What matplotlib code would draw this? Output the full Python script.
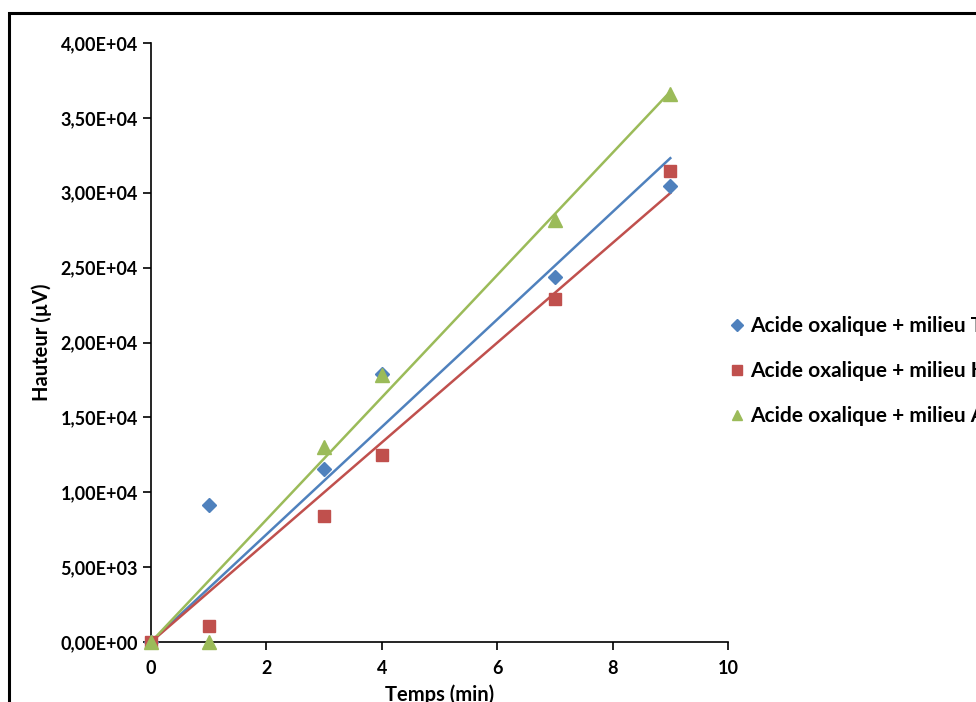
import matplotlib
matplotlib.use("Agg")
import matplotlib.pyplot as plt
from matplotlib.patches import Rectangle
from matplotlib.ticker import FuncFormatter, MultipleLocator
from matplotlib.lines import Line2D
import numpy as np

plt.rcParams['font.family'] = ['Lato', 'DejaVu Sans']
plt.rcParams['font.weight'] = 'bold'

temps = [0, 1, 3, 4, 7, 9]
milieu_t = [0, 9150, 11550, 17900, 24370, 30450]
milieu_h = [0, 1070, 8410, 12490, 22900, 31450]
milieu_a = [0, 0, 13020, 17830, 28180, 36600]
labels = ["Acide oxalique + milieu TYG",
          "Acide oxalique + milieu HCG",
          "Acide oxalique + milieu AAM"]
colors = ['#4F81BD', '#C0504D', '#9BBB59']
markers = ['D', 's', '^']
msizes = [7.5, 8.5, 9.5]

fig = plt.figure(figsize=(9.76, 7.02), dpi=100)
ax = fig.add_axes([151 / 976, 1 - 642 / 702, 577 / 976, 599 / 702])

x = np.array(temps, dtype=float)
handles = []
for ys, c, m, ms, lab in zip([milieu_t, milieu_h, milieu_a], colors, markers, msizes, labels):
    y = np.array(ys, dtype=float)
    slope = (x * y).sum() / (x * x).sum()  # linear trend through origin
    xx = np.array([0, x.max()])
    ax.plot(xx, slope * xx, color=c, lw=1.8, zorder=2)
    ax.plot(x, y, linestyle='none', marker=m, ms=ms, color=c, mec=c, zorder=3, clip_on=False)
    handles.append(Line2D([], [], linestyle='none', marker=m, ms=ms * 0.8, color=c, label=lab))

ax.set_xlim(0, 10)
ax.set_ylim(0, 40000)
ax.xaxis.set_major_locator(MultipleLocator(2))
ax.yaxis.set_major_locator(MultipleLocator(5000))
ax.yaxis.set_major_formatter(FuncFormatter(lambda v, p: "{:.2E}".format(v).replace('.', ',')))
for s in ['top', 'right']:
    ax.spines[s].set_visible(False)
for s in ['left', 'bottom']:
    ax.spines[s].set_linewidth(1.2)
ax.tick_params(direction='out', length=6, width=1.2, labelsize=13)
ax.tick_params(axis='x', pad=7)
ax.set_ylabel("Hauteur (µV)", fontsize=14.5, fontweight='bold', labelpad=6)
ax.set_xlabel("Temps (min)", fontsize=14.5, fontweight='bold', labelpad=5)

fig.legend(handles=handles, loc='upper left', bbox_to_anchor=(718 / 976, 1 - 308 / 702),
           frameon=False, fontsize=15, handletextpad=0.15, labelspacing=1.2,
           handlelength=1.0, borderaxespad=0)

fig.patches.append(Rectangle((9 / 976, -0.1), 1.2, 1.1 - 13 / 702, transform=fig.transFigure,
                             fill=False, edgecolor='black', lw=2.2))

fig.savefig("out.png", dpi=100)
